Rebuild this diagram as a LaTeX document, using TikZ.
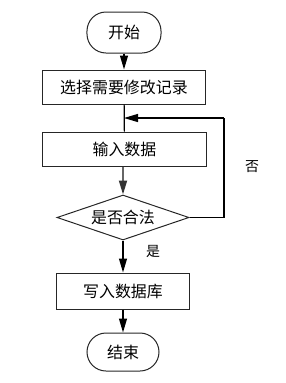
\documentclass[tikz,border=0pt]{standalone}
\usepackage{fontspec}
\newfontfamily\cjk{Noto Sans CJK SC}
\usetikzlibrary{shapes.geometric,arrows.meta}
\begin{document}
\begin{tikzpicture}[x=1bp,y=-1bp,
  box/.style={draw=black!85,line width=1bp,rectangle,inner sep=0pt,font=\cjk\fontsize{16}{16}\selectfont},
  term/.style={box,rounded corners=19bp},
  dec/.style={draw=black!85,line width=1bp,diamond,aspect=2.93,inner sep=0pt,font=\cjk\fontsize{16}{16}\selectfont},
  lbl/.style={font=\cjk\fontsize{14}{14}\selectfont,inner sep=0pt},
  arr/.style={line width=1.2bp,-{Triangle[length=14bp,width=8bp]}},
  ln/.style={line width=1.2bp}]
\useasboundingbox (0,0) rectangle (286,383);
\node[term,minimum width=74bp,minimum height=41bp] (start) at (124,32.5) {开始};
\node[box,minimum width=162bp,minimum height=34bp] (sel) at (124,87) {选择需要修改记录};
\node[box,minimum width=163bp,minimum height=34bp] (inp) at (124.5,149) {输入数据};
\node[dec,minimum width=132bp,minimum height=45bp] (chk) at (123,217.5) {是否合法};
\node[box,minimum width=132bp,minimum height=36bp] (wr) at (123,291) {写入数据库};
\node[term,minimum width=72bp,minimum height=38bp] (end) at (123,352) {结束};
\coordinate (fb) at (224,118);
\coordinate (jn) at (124,118);
\node[lbl] (no) at (252,167) {否};
\node[lbl] (yes) at (153,251) {是};
\draw[arr] (start) -- (sel);
\draw[ln] (sel) -- (inp);
\draw[ln] (chk.east) -| (fb);
\draw[arr] (fb) -- (jn);
\draw[draw=black!60,line width=1.8bp,-{Triangle[length=14bp,width=8bp,color=black!80]}] (inp.south -| chk.north) -- (chk.north);
\draw[arr] (chk.south) -- (wr.north);
\draw[arr] (wr) -- (end);
\end{tikzpicture}
\end{document}
